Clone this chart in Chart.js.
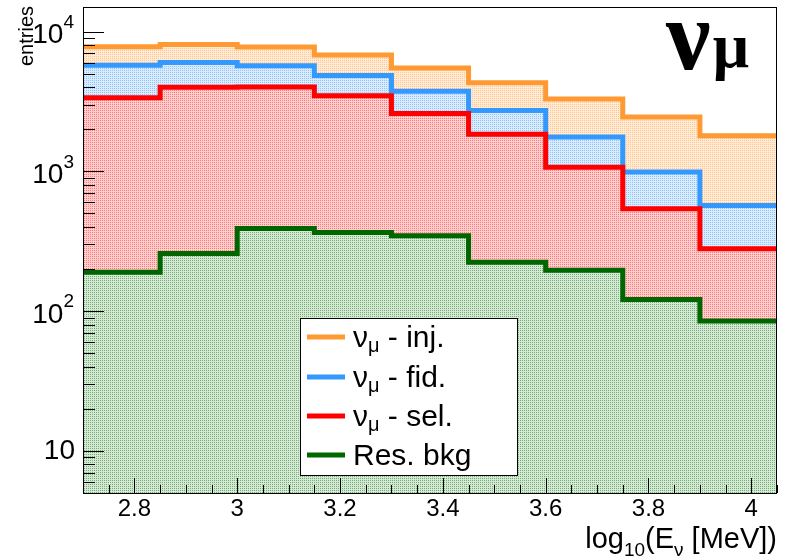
<!DOCTYPE html>
<html>
<head>
<meta charset="utf-8">
<script src="https://cdn.jsdelivr.net/npm/chart.js@4.4.1/dist/chart.umd.min.js"></script>
<style>
  html, body { margin: 0; padding: 0; background: #ffffff; }
  #wrap { width: 788px; height: 560px; position: relative; }
</style>
</head>
<body>
<div id="wrap"><canvas id="c" width="788" height="560"></canvas></div>
<script>
// Histogram bin edges in log10(E_nu / MeV)
const binEdges = [2.7, 2.85, 3.0, 3.15, 3.3, 3.45, 3.6, 3.75, 3.9, 4.05];

// Entries per bin
const injected = [7800, 8100, 7750, 6800, 5500, 4300, 3300, 2450, 1800];
const fiducial = [5750, 6000, 5700, 4850, 3750, 2730, 1760, 990, 570];
const selected = [3370, 4000, 4020, 3480, 2600, 1840, 1070, 540, 280];
const resBkg   = [190, 258, 390, 366, 347, 224, 196, 121, 85];

// Axis ticks and labels
const xTickValues = [2.8, 3.0, 3.2, 3.4, 3.6, 3.8, 4.0];
const xTickLabels = ['2.8', '3', '3.2', '3.4', '3.6', '3.8', '4'];
const yDecadeExponents = [1, 2, 3, 4];

// Legend entries: [main, subscript, rest]
const legendNames = [
  ['\u03BD', '\u03BC', ' - inj.'],
  ['\u03BD', '\u03BC', ' - fid.'],
  ['\u03BD', '\u03BC', ' - sel.'],
  ['Res. bkg', '', '']
];

const lineColors = ['#ff9933', '#3399ff', '#ff0000', '#006600'];

// Fine dotted fill, one dot per 2x2 cell
function dottedFill(dot, light) {
  const c = document.createElement('canvas');
  c.width = 2; c.height = 2;
  const g = c.getContext('2d');
  g.fillStyle = light; g.fillRect(0, 0, 2, 2);
  g.fillStyle = dot; g.fillRect(0, 0, 1, 1);
  return g.createPattern(c, 'repeat');
}

const fills = [
  dottedFill('rgb(255,195,150)', 'rgb(255,236,211)'),
  dottedFill('rgb(150,195,245)', 'rgb(217,235,254)'),
  dottedFill('rgb(255,120,120)', 'rgb(255,207,207)'),
  dottedFill('rgb(120,170,120)', 'rgb(213,234,213)')
];

function histPoints(values) {
  const pts = values.map((v, i) => ({ x: binEdges[i], y: v }));
  pts.push({ x: binEdges[binEdges.length - 1], y: values[values.length - 1] });
  return pts;
}

const seriesValues = [injected, fiducial, selected, resBkg];

const datasets = seriesValues.map((vals, i) => ({
  data: histPoints(vals),
  borderColor: lineColors[i],
  backgroundColor: fills[i],
  borderWidth: 5,
  stepped: 'before',
  fill: 'start',
  pointRadius: 0,
  borderJoinStyle: 'miter',
  borderCapStyle: 'butt',
  order: 4 - i
}));

const FONT = '"Liberation Sans", Arial, Helvetica, sans-serif';

const rootStyle = {
  id: 'rootStyle',
  afterDatasetsDraw(chart) {
    const ctx = chart.ctx;
    const a = chart.chartArea;
    const xs = chart.scales.x;
    const ys = chart.scales.y;
    ctx.save();
    ctx.strokeStyle = '#000';
    ctx.lineWidth = 1;

    // y ticks (log), pointing into the frame
    ctx.beginPath();
    for (let e = 0; e <= 4; e++) {
      for (let m = 1; m <= 9; m++) {
        const v = m * Math.pow(10, e);
        if (v < ys.min || v > ys.max) continue;
        const y = Math.round(ys.getPixelForValue(v)) + 0.5;
        const len = (m === 1) ? 21 : 12;
        ctx.moveTo(a.left, y);
        ctx.lineTo(a.left + len, y);
      }
    }
    // x ticks every 0.05, pointing up
    for (let k = 0; k <= 27; k++) {
      const v = 2.7 + k * 0.05;
      const x = Math.round(xs.getPixelForValue(v)) + 0.5;
      const major = Math.abs((v * 5) - Math.round(v * 5)) < 1e-6;
      const len = major ? 15 : 8;
      ctx.moveTo(x, a.bottom);
      ctx.lineTo(x, a.bottom - len);
    }
    ctx.stroke();

    // frame
    ctx.strokeRect(a.left + 0.5, a.top + 0.5, a.right - a.left - 1, a.bottom - a.top);

    // y tick labels
    ctx.fillStyle = '#000';
    ctx.textBaseline = 'middle';
    yDecadeExponents.forEach(e => {
      const y = ys.getPixelForValue(Math.pow(10, e));
      if (e === 1) {
        ctx.font = '28px ' + FONT;
        ctx.textAlign = 'right';
        ctx.fillText('10', 75, y);
      } else {
        ctx.font = '19px ' + FONT;
        const sup = String(e);
        const sw = ctx.measureText(sup).width;
        ctx.textAlign = 'right';
        ctx.fillText(sup, 74, y - 9);
        ctx.font = '28px ' + FONT;
        ctx.fillText('10', 74 - sw, y + 4);
      }
    });

    // x tick labels
    ctx.font = '24px ' + FONT;
    ctx.textAlign = 'center';
    ctx.textBaseline = 'middle';
    xTickValues.forEach((v, i) => {
      ctx.fillText(xTickLabels[i], xs.getPixelForValue(v), 509);
    });

    // x axis title, right aligned: log10(E_nu [MeV])
    const parts = [
      ['log', 29, 0], ['10', 19, 8], ['(E', 29, 0], ['\u03BD', 19, 8], [' [MeV])', 29, 0]
    ];
    let total = 0;
    parts.forEach(p => { ctx.font = p[1] + 'px ' + FONT; total += ctx.measureText(p[0]).width; });
    let x = a.right - total;
    ctx.textAlign = 'left';
    ctx.textBaseline = 'alphabetic';
    parts.forEach(p => {
      ctx.font = p[1] + 'px ' + FONT;
      ctx.fillText(p[0], x, 548 + p[2]);
      x += ctx.measureText(p[0]).width;
    });

    // y axis title
    ctx.save();
    ctx.translate(33, 6);
    ctx.rotate(-Math.PI / 2);
    ctx.font = '20px ' + FONT;
    ctx.textAlign = 'right';
    ctx.textBaseline = 'alphabetic';
    ctx.fillText('entries', 0, 0);
    ctx.restore();

    // channel label
    ctx.textAlign = 'left';
    ctx.textBaseline = 'alphabetic';
    ctx.font = 'bold 100px "Liberation Serif", "Times New Roman", serif';
    ctx.fillText('\u03BD', 666, 69);
    const nw = ctx.measureText('\u03BD').width;
    ctx.font = 'bold 64px "Liberation Serif", "Times New Roman", serif';
    ctx.fillText('\u03BC', 666 + nw + 2, 67);

    // legend box
    const L = { x: 300, y: 318, w: 217, h: 157 };
    ctx.fillStyle = '#fff';
    ctx.fillRect(L.x, L.y, L.w, L.h);
    ctx.strokeStyle = '#000';
    ctx.lineWidth = 1;
    ctx.strokeRect(L.x + 0.5, L.y + 0.5, L.w, L.h);
    const rowY = [337, 377, 416, 455];
    legendNames.forEach((n, i) => {
      const y = rowY[i];
      ctx.strokeStyle = lineColors[i];
      ctx.lineWidth = 5;
      ctx.beginPath();
      ctx.moveTo(307, y);
      ctx.lineTo(345, y);
      ctx.stroke();
      ctx.fillStyle = '#000';
      ctx.textBaseline = 'alphabetic';
      ctx.textAlign = 'left';
      let tx = 353;
      ctx.font = '30px ' + FONT;
      ctx.fillText(n[0], tx, y + 10);
      tx += ctx.measureText(n[0]).width;
      if (n[1]) {
        ctx.font = '20px ' + FONT;
        ctx.fillText(n[1], tx, y + 15);
        tx += ctx.measureText(n[1]).width;
      }
      if (n[2]) {
        ctx.font = '30px ' + FONT;
        ctx.fillText(n[2], tx, y + 10);
      }
    });
    ctx.restore();
  }
};

new Chart(document.getElementById('c'), {
  type: 'line',
  data: { datasets },
  options: {
    responsive: false,
    animation: false,
    layout: { padding: { left: 83, top: 7, right: 11, bottom: 67 } },
    scales: {
      x: { type: 'linear', min: 2.7, max: 4.05, display: false },
      y: { type: 'logarithmic', min: 5, max: 15000, display: false }
    },
    plugins: {
      legend: { display: false },
      tooltip: { enabled: false }
    }
  },
  plugins: [rootStyle]
});
</script>
</body>
</html>
